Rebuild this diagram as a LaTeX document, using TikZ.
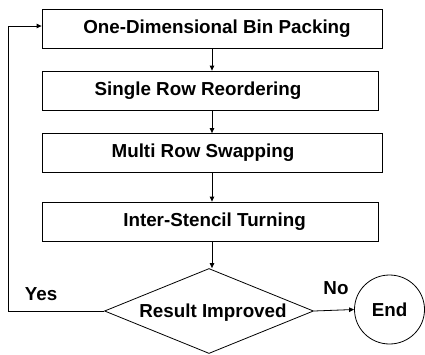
\documentclass[tikz,border=0pt]{standalone}
\usepackage{fontspec}
\setmainfont{Liberation Sans}
\usetikzlibrary{shapes.geometric,arrows.meta}
\begin{document}
\begin{tikzpicture}[x=1pt,y=-1pt,
  every node/.style={font=\bfseries\fontsize{18.8}{22}\selectfont},
  stagebox/.style={draw,line width=0.8pt,minimum height=39pt,inner sep=0pt},
  flow/.style={line width=0.8pt,-{Triangle[length=5pt,width=4.5pt]}}]
\useasboundingbox (0,0) rectangle (425,354);
% process stages
\node[stagebox,minimum width=340pt] (pack) at (212,28.5) {};
\node[stagebox,minimum width=336pt] (reorder) at (210,90.5) {};
\node[stagebox,minimum width=340pt] (swap) at (212,153) {};
\node[stagebox,minimum width=336pt] (turn) at (210,221.5) {};
\node (packtext) at (217,28.5) {One-Dimensional Bin Packing};
\node (reordertext) at (198,90.5) {Single Row Reordering};
\node (swaptext) at (203,153) {Multi Row Swapping};
\node (turntext) at (214.5,221.5) {Inter-Stencil Turning};
% decision and end
\node[draw,diamond,line width=0.8pt,minimum width=209pt,minimum height=85pt,inner sep=0pt] (improved) at (209,311) {};
\node (improvedtext) at (213,313) {Result Improved};
\node[draw,ellipse,line width=0.8pt,minimum width=70pt,minimum height=69pt,inner sep=0pt] (finish) at (389.5,309.5) {End};
% connectors
\coordinate (loopbottom) at (8,311);
\coordinate (looptop) at (8,26);
\draw[flow] (pack.south -| 212,0) -- (reorder.north -| 212,0);
\draw[flow] (reorder.south -| 212,0) -- (swap.north -| 212,0);
\draw[flow] (swap.south -| 212,0) -- (turn.north -| 212,0);
\draw[flow] (turn.south -| 212,0) -- (improved.north -| 212,0);
\draw[flow] (improved.west) -- (loopbottom) -- (looptop) -- (looptop -| pack.west);
\draw[flow] (improved.east) -- (finish.west);
\node (yes) at (41,294) {Yes};
\node (no) at (336,288) {No};
\end{tikzpicture}
\end{document}
